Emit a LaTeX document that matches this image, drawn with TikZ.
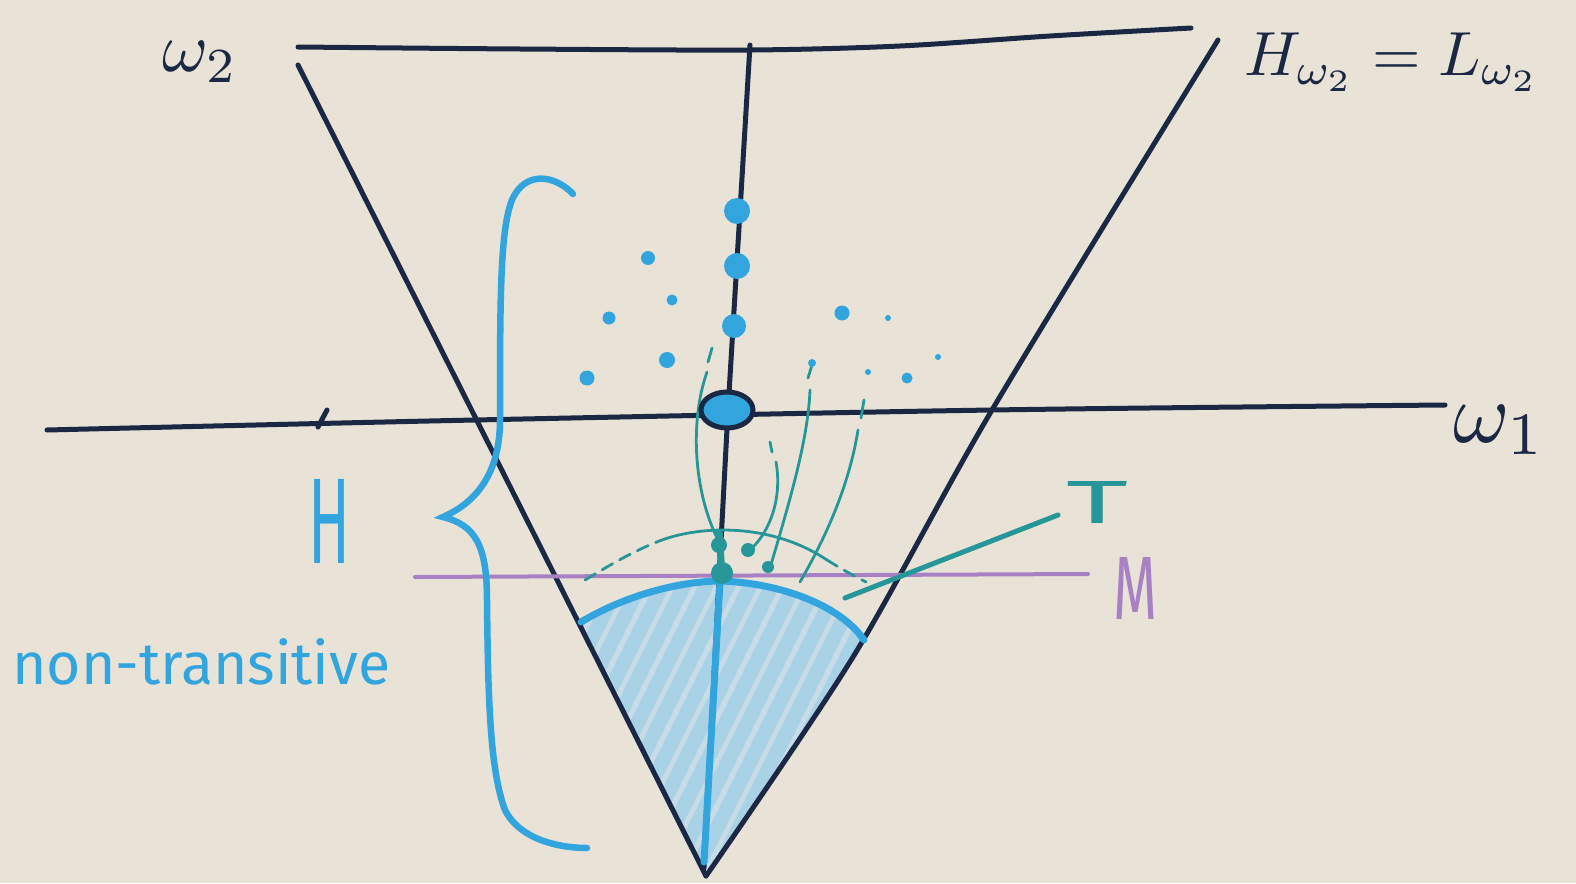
\documentclass[tikz,border=0pt]{standalone}
\usepackage{fontspec}
\usepackage{graphicx}
\usetikzlibrary{shapes.geometric}
\setsansfont{Fira Sans}
\definecolor{bg}{RGB}{233,226,215}
\definecolor{navy}{RGB}{27,40,68}
\definecolor{sky}{RGB}{50,165,222}
\definecolor{tealc}{RGB}{38,150,152}
\definecolor{purp}{RGB}{168,128,196}
\definecolor{shadeblue}{RGB}{170,210,230}
\definecolor{stripe}{RGB}{210,224,230}
\tikzset{
  axisline/.style={draw=navy, line width=5pt, line cap=round},
  bluethick/.style={draw=sky, line width=7pt, line cap=round},
  tealthin/.style={draw=tealc, line width=2.8pt, line cap=round},
  dotb/.style={circle, fill=sky, inner sep=0pt},
  dott/.style={circle, fill=tealc, inner sep=0pt},
  lbl/.style={inner sep=0pt, font=\sffamily}
}
\begin{document}
\begin{tikzpicture}[x=1pt,y=-1pt]
\fill[bg] (0,0) rectangle (1576,883);
\useasboundingbox (0,0) rectangle (1576,883);

% key coordinates
\coordinate (apex) at (706,876);
\coordinate (arcL) at (581,622);
\coordinate (arcR) at (864,640);
\coordinate (arcTop) at (721,581);

% shaded region
\begin{scope}
\clip (arcL) .. controls (635,590) and (690,581) .. (arcTop) .. controls (780,583) and (840,605) .. (arcR) -- (853,657) -- (apex) -- cycle;
\fill[shadeblue] (500,500) rectangle (950,900);
\foreach \k in {0,...,40}{
  \draw[stripe, line width=5pt, opacity=0.75] (450+\k*22,900) -- (650+\k*22,500);
}
\end{scope}

% top line
\draw[axisline] plot[smooth] coordinates {(298,47) (520,49) (750,50) (900,46) (1050,36) (1191,28)};
% cone lines
\draw[axisline] (298,65) -- (apex);
\draw[axisline] plot[smooth] coordinates {(1218,40) (992,410) (853,657) (apex)};
% vertical axis
\draw[axisline] (750,45) -- (728,410) -- (720,560) -- (704,868);
% horizontal axis w1
\draw[axisline] plot[smooth] coordinates {(47,430) (475,420) (992,410) (1445,405)};
\draw[axisline] (318,427) -- (327,410);

% M line
\draw[draw=purp, line width=4pt, line cap=round] (415,577) -- (1088,574);

% blue arc and blue thick axis part
\draw[bluethick] (arcL) .. controls (635,590) and (690,581) .. (arcTop) .. controls (780,583) and (840,605) .. (arcR);
\draw[bluethick] (721,565) -- (704,862);

% T line
\draw[draw=tealc, line width=5pt, line cap=round] (845,598) -- (1058,515);

% teal dashed arc
\draw[tealthin, dashed, dash pattern=on 12pt off 8pt] (585,580) .. controls (610,565) and (635,550) .. (662,540);
\draw[tealthin] (662,540) .. controls (700,526) and (770,522) .. (827,560);
\draw[tealthin, dashed, dash pattern=on 12pt off 8pt] (827,560) .. controls (840,568) and (852,575) .. (866,582);

% teal curves
\draw[tealthin] (712,348) -- (708,362);
\draw[tealthin] (707,372) .. controls (690,420) and (693,490) .. (718,540);
\draw[tealthin] (770,442) -- (772,452);
\draw[tealthin] (776,462) .. controls (782,495) and (772,530) .. (750,550);
\draw[tealthin] (812,365) -- (808,378);
\draw[tealthin] (810,390) .. controls (808,440) and (790,500) .. (770,568);
\draw[tealthin] (864,400) -- (861,418);
\draw[tealthin] (858,430) .. controls (850,480) and (830,530) .. (800,582);
\draw[draw=tealc, line width=7pt] (719,530) -- (722,575);

% teal blobs
\node[dott, minimum size=16pt] (tb1) at (719,545) {};
\node[dott, minimum size=22pt] (tb2) at (722,573) {};
\node[dott, minimum size=12pt] (tb3) at (768,567) {};
\node[dott, minimum size=14pt] (tb4) at (748,550) {};

% blue dots on the axis
\node[dotb, minimum size=26pt] (d1) at (737,211) {};
\node[dotb, minimum size=26pt] (d2) at (737,266) {};
\node[dotb, minimum size=24pt] (d3) at (734,326) {};
% scattered dots
\node[dotb, minimum size=14pt] (s1) at (648,258) {};
\node[dotb, minimum size=11pt] (s2) at (672,300) {};
\node[dotb, minimum size=13pt] (s3) at (609,318) {};
\node[dotb, minimum size=16pt] (s4) at (667,360) {};
\node[dotb, minimum size=15pt] (s5) at (587,378) {};
\node[dotb, minimum size=15pt] (s6) at (842,313) {};
\node[dotb, minimum size=6pt] (s7) at (888,318) {};
\node[dotb, minimum size=6pt] (s8) at (938,357) {};
\node[dotb, minimum size=8pt] (s9) at (812,363) {};
\node[dotb, minimum size=6pt] (s10) at (868,372) {};
\node[dotb, minimum size=11pt] (s11) at (907,378) {};

% center blob
\node[ellipse, draw=navy, line width=5pt, fill=sky, minimum width=52pt, minimum height=36pt, inner sep=0pt] (origin) at (727,410) {};

% brace
\draw[draw=sky, line width=6.5pt, line cap=round] (573,194) .. controls (555,175) and (525,170) .. (512,200) .. controls (500,230) and (500,300) .. (500,420) .. controls (500,480) and (470,505) .. (443,517) .. controls (475,525) and (487,545) .. (487,600) .. controls (488,700) and (490,770) .. (505,810) .. controls (520,840) and (560,848) .. (587,848);

% labels
\node[lbl, text=navy] (w2) at (200,62) {\resizebox{75pt}{!}{$\omega_2$}};
\node[lbl, text=navy] (w1) at (1500,430) {\resizebox{92pt}{!}{$\omega_1$}};
\node[lbl, text=navy] (hl) at (1392,62) {\resizebox{295pt}{!}{$H_{\omega_2}=L_{\omega_2}$}};
\node[lbl, text=sky] (H) at (330,521) {\resizebox{42pt}{84pt}{H}};
\node[lbl, text=sky, anchor=west] (nt) at (12,662) {\resizebox{378pt}{!}{non-transitive}};
\node[lbl, text=tealc] (T) at (1097,502) {\resizebox{62pt}{42pt}{T}};
\node[lbl, text=purp] (M) at (1135,588) {\resizebox{44pt}{62pt}{M}};
\end{tikzpicture}
\end{document}
